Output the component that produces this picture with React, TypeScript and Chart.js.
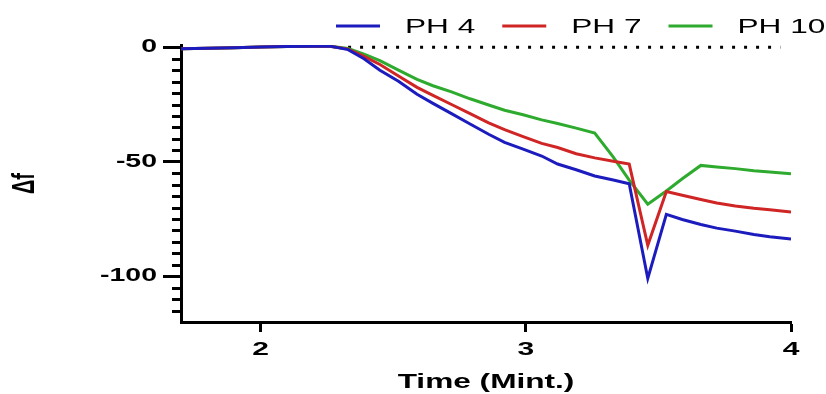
import React, { useEffect, useRef } from 'react';
import { Chart, registerables } from 'chart.js';

Chart.register(...registerables);

// ---- data ----
const TIME = [
  1.7, 1.8, 1.9, 2.0, 2.1, 2.2, 2.26,
  2.33, 2.39, 2.45, 2.52, 2.59, 2.65, 2.72, 2.79, 2.86, 2.92, 2.99, 3.06, 3.12, 3.19, 3.26, 3.33, 3.39,
  3.46, 3.53, 3.59, 3.66, 3.72, 3.79, 3.86, 3.92, 4.0,
];
const PH4 = [
  -0.6, -0.4, -0.2, 0.1, 0.3, 0.5, 0.5,
  -1.0, -5, -10, -14.8, -20.5, -24.5, -29, -33.5, -38, -41.5, -44.5, -47.5, -51, -53.5, -56.2, -58, -59.6,
  -101, -73, -75.2, -77.4, -79, -80.3, -81.8, -82.8, -83.7,
];
const PH7 = [
  -0.6, -0.4, -0.2, 0.1, 0.3, 0.5, 0.5,
  -0.8, -4, -7.5, -12.5, -17.5, -21, -25, -29, -33, -36, -39, -42, -43.8, -46.5, -48.3, -49.8, -51,
  -86.5, -63, -64.6, -66.5, -68, -69.3, -70.3, -71, -71.9,
];
const PH10 = [
  -0.6, -0.4, -0.2, 0.1, 0.3, 0.5, 0.5,
  -0.5, -3, -5.8, -10, -14, -16.8, -19.5, -22.5, -25.2, -27.5, -29.5, -31.7, -33.3, -35.3, -37.5, -48, -58,
  -68.5, -62.8, -57.4, -51.6, -52.3, -53, -53.9, -54.5, -55.2,
];
const SERIES_LABELS = ['PH 4', 'PH 7', 'PH 10'];
const ZERO_LINE_X = [2.33, 3.96];
const ZERO_LINE_Y = [0, 0];
const X_TICKS = [2, 3, 4];
const Y_TICKS = [-100, -50, 0];
const Y_MINOR_TICKS = [-115, -110, -105, -95, -90, -85, -80, -75, -70, -65, -60, -55, -45, -40, -35, -30, -25, -20, -15, -10, -5];

const COLORS = ['#1c1cbe', '#d02525', '#2eab2e'];
const FONT = 'Liberation Sans';
const STRETCH = 1.58;

function stretchText(ctx: CanvasRenderingContext2D) {
  const anyCtx = ctx as any;
  if (anyCtx.__stretched) return;
  anyCtx.__stretched = true;
  const fill = ctx.fillText.bind(ctx);
  const measure = ctx.measureText.bind(ctx);
  (ctx as any).fillText = (text: string, x: number, y: number) => {
    ctx.save();
    ctx.translate(x, y);
    const m = ctx.getTransform();
    if (Math.abs(m.b) > 1e-6) ctx.scale(1, STRETCH);
    else ctx.scale(STRETCH, 1);
    fill(text, 0, 0);
    ctx.restore();
  };
  (ctx as any).measureText = (text: string) => {
    const m = measure(text);
    return {
      width: m.width * STRETCH,
      actualBoundingBoxAscent: m.actualBoundingBoxAscent,
      actualBoundingBoxDescent: m.actualBoundingBoxDescent,
      actualBoundingBoxLeft: m.actualBoundingBoxLeft * STRETCH,
      actualBoundingBoxRight: m.actualBoundingBoxRight * STRETCH,
      fontBoundingBoxAscent: m.fontBoundingBoxAscent,
      fontBoundingBoxDescent: m.fontBoundingBoxDescent,
    };
  };
}

const decorPlugin = {
  id: 'decor',
  afterDraw(chart: any) {
    const { ctx, chartArea } = chart;
    const yScale = chart.scales.y;
    ctx.save();
    // minor ticks on the y axis
    ctx.strokeStyle = '#000';
    ctx.lineWidth = 3;
    Y_MINOR_TICKS.forEach((v) => {
      const py = Math.round(yScale.getPixelForValue(v)) + 0.5;
      ctx.beginPath();
      ctx.moveTo(chartArea.left - 9, py);
      ctx.lineTo(chartArea.left, py);
      ctx.stroke();
    });
    // legend
    ctx.font = `normal 20px "${FONT}"`;
    ctx.textBaseline = 'alphabetic';
    ctx.textAlign = 'left';
    ctx.fillStyle = '#000';
    let x = 336;
    const lineY = 26;
    SERIES_LABELS.forEach((label, i) => {
      ctx.strokeStyle = COLORS[i];
      ctx.lineWidth = 3;
      ctx.beginPath();
      ctx.moveTo(x, lineY);
      ctx.lineTo(x + 44, lineY);
      ctx.stroke();
      x += 44 + 25;
      ctx.fillText(label, x, 33);
      x += ctx.measureText(label).width + 27;
    });
    ctx.restore();
  },
};

export default function App() {
  const ref = useRef<HTMLCanvasElement | null>(null);

  useEffect(() => {
    const canvas = ref.current;
    if (!canvas) return;
    const ctx = canvas.getContext('2d')!;
    stretchText(ctx);
    Chart.defaults.font.family = FONT;

    const series = [PH4, PH7, PH10];
    const datasets: any[] = series.map((vals, i) => ({
      label: SERIES_LABELS[i],
      data: TIME.map((t, j) => ({ x: t, y: vals[j] })),
      borderColor: COLORS[i],
      backgroundColor: COLORS[i],
      borderWidth: 3,
      pointRadius: 0,
      tension: 0,
      fill: false,
    }));
    datasets.push({
      label: 'zero',
      data: ZERO_LINE_X.map((t, j) => ({ x: t, y: ZERO_LINE_Y[j] })),
      borderColor: '#000',
      borderWidth: 3,
      borderDash: [3, 9],
      pointRadius: 0,
      fill: false,
    });

    const tickFont = { family: FONT, weight: 'bold' as const, size: 18 };
    const chart = new Chart(ctx, {
      type: 'line',
      data: { datasets },
      options: {
        animation: false,
        responsive: false,
        events: [],
        layout: { padding: { left: 0, right: 35, top: 45, bottom: 0 } },
        plugins: { legend: { display: false }, tooltip: { enabled: false } },
        scales: {
          x: {
            type: 'linear',
            min: 1.7,
            max: 4,
            afterBuildTicks: (s: any) => {
              s.ticks = X_TICKS.map((v) => ({ value: v }));
            },
            afterFit: (s: any) => {
              s.height = 72;
            },
            ticks: {
              font: { ...tickFont, size: 19 },
              color: '#000',
              padding: 6,
              maxRotation: 0,
              callback: (v: any) => String(v),
            },
            grid: {
              drawOnChartArea: false,
              drawTicks: true,
              tickLength: 10,
              tickWidth: 3,
              tickColor: '#000',
            },
            border: { display: true, color: '#000', width: 3 },
            title: {
              display: true,
              text: 'Time (Mint.)',
              color: '#000',
              font: { family: FONT, weight: 'bold', size: 20 },
              padding: { top: 0, bottom: 0 },
            },
          },
          y: {
            type: 'linear',
            min: -120,
            max: 1,
            afterBuildTicks: (s: any) => {
              s.ticks = Y_TICKS.map((v) => ({ value: v }));
            },
            afterFit: (s: any) => {
              s.width = 181;
            },
            ticks: {
              font: tickFont,
              color: '#000',
              padding: 6,
              callback: (v: any) => String(v),
            },
            grid: {
              drawOnChartArea: false,
              drawTicks: true,
              tickLength: 18,
              tickWidth: 3,
              tickColor: '#000',
            },
            border: { display: true, color: '#000', width: 3 },
            title: {
              display: true,
              text: 'Δf',
              color: '#000',
              font: { family: FONT, weight: 'bold', size: 20 },
              padding: { top: 13, bottom: 0 },
            },
          },
        },
      },
      plugins: [decorPlugin],
    });
    return () => chart.destroy();
  }, []);

  return (
    <div style={{ position: 'absolute', left: 0, top: 0, width: 826, height: 394, background: '#fff' }}>
      <canvas ref={ref} width={826} height={394} style={{ width: 826, height: 394, display: 'block' }} />
    </div>
  );
}
